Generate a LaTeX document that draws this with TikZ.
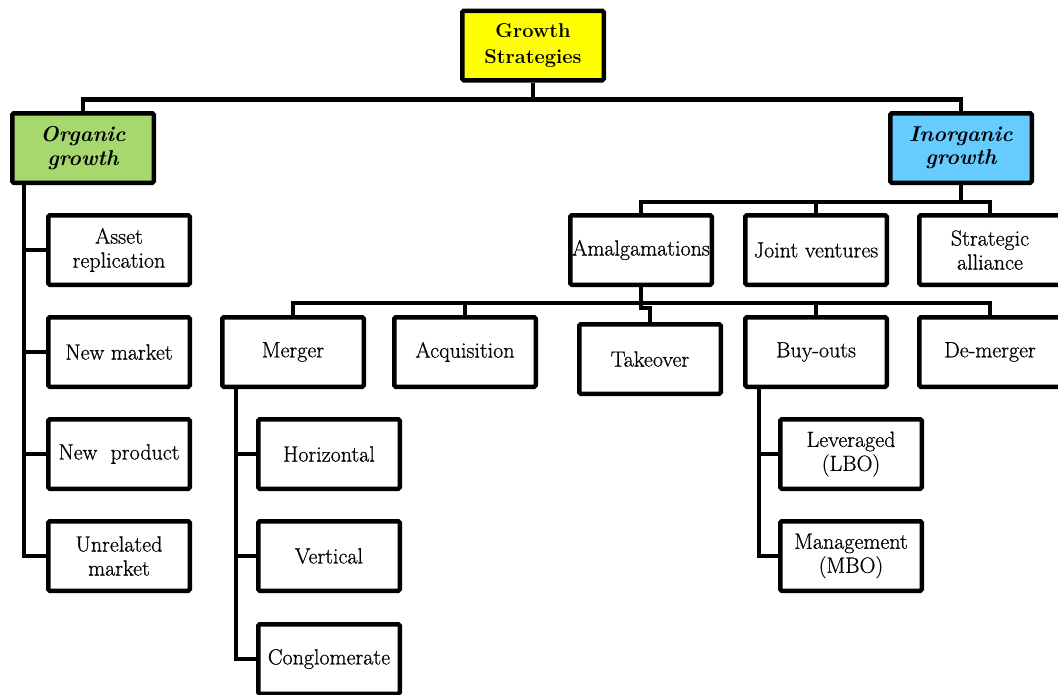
\documentclass[tikz,border=0pt]{standalone}
\usepackage{fontspec}
\setmainfont{Latin Modern Roman}
\newfontfamily\boxfont{Latin Modern Roman}[FakeBold=0.7]
\definecolor{gsyellow}{RGB}{255,255,0}
\definecolor{orggreen}{RGB}{166,216,110}
\definecolor{inocyan}{RGB}{102,204,255}
\begin{document}
\begin{tikzpicture}[x=1pt,y=-1pt,
  box/.style={draw=black, line width=4.5pt, rounded corners=1.5pt, fill=white,
    minimum width=141.5pt, minimum height=69.5pt, inner sep=0pt, align=center,
    font=\boxfont\fontsize{22}{24}\selectfont},
  headbox/.style={box, font=\fontsize{20}{26}\selectfont\bfseries},
  orgbox/.style={box, font=\fontsize{21.5}{23.5}\selectfont\bfseries\itshape},
  link/.style={draw=black, line width=4.5pt, line join=miter}
]
\useasboundingbox (0,0) rectangle (1058,694);

% nodes
\node[headbox, fill=gsyellow] (gs) at (533,45.5) {Growth\\Strategies};
\node[orgbox, fill=orggreen] (org) at (83,148) {Organic\\growth};
\node[orgbox, fill=inocyan] (inorg) at (961,148) {Inorganic\\growth};

\node[box] (asset) at (119,250) {Asset\\replication};
\node[box] (newmkt) at (119,352) {New market};
\node[box] (newprod) at (119,454) {New\ \ product};
\node[box] (unrel) at (119,556) {Unrelated\\market};

\node[box] (amal) at (641,250) {Amalgamations};
\node[box] (jv) at (816,250) {Joint ventures};
\node[box] (sa) at (990,250) {Strategic\\alliance};

\node[box] (merger) at (293,352) {Merger};
\node[box] (acq) at (465,352) {Acquisition};
\node[box] (takeover) at (650,359) {Takeover};
\node[box] (buyouts) at (816,352) {Buy-outs};
\node[box] (demerger) at (990,352) {De-merger};

\node[box] (horiz) at (329,454) {Horizontal};
\node[box] (vert) at (329,556) {Vertical};
\node[box] (congl) at (329,659) {Conglomerate};

\node[box] (lbo) at (851,454) {Leveraged\\(LBO)};
\node[box] (mbo) at (851,556) {Management\\(MBO)};

% connectors: top level
\draw[link] (gs.south) -- ++(0,17) coordinate (topbus) -| (org.north);
\draw[link] (topbus) -| (inorg.north);

% organic children
\draw[link] (org.south west) ++(14,0) coordinate (otr) |- (unrel.west);
\draw[link] (otr) |- (asset.west);
\draw[link] (otr) |- (newmkt.west);
\draw[link] (otr) |- (newprod.west);

% inorganic children
\draw[link] (inorg.south) -- ++(0,17) coordinate (ibus) -| (amal.north);
\draw[link] (ibus) -| (jv.north);
\draw[link] (ibus) -| (sa.north);

% amalgamation children
\draw[link] (amal.south) -- ++(0,16) coordinate (abus) -| (merger.north);
\draw[link] (abus) -| (acq.north);
\draw[link] (abus) -| (buyouts.north);
\draw[link] (abus) -| (demerger.north);
\draw[link] (amal.south) -- ++(0,21) -| (takeover.north);

% merger children
\draw[link] (merger.south west) ++(16,0) coordinate (mtr) |- (congl.west);
\draw[link] (mtr) |- (horiz.west);
\draw[link] (mtr) |- (vert.west);

% buy-out children
\draw[link] (buyouts.south west) ++(16,0) coordinate (btr) |- (mbo.west);
\draw[link] (btr) |- (lbo.west);
\end{tikzpicture}
\end{document}
